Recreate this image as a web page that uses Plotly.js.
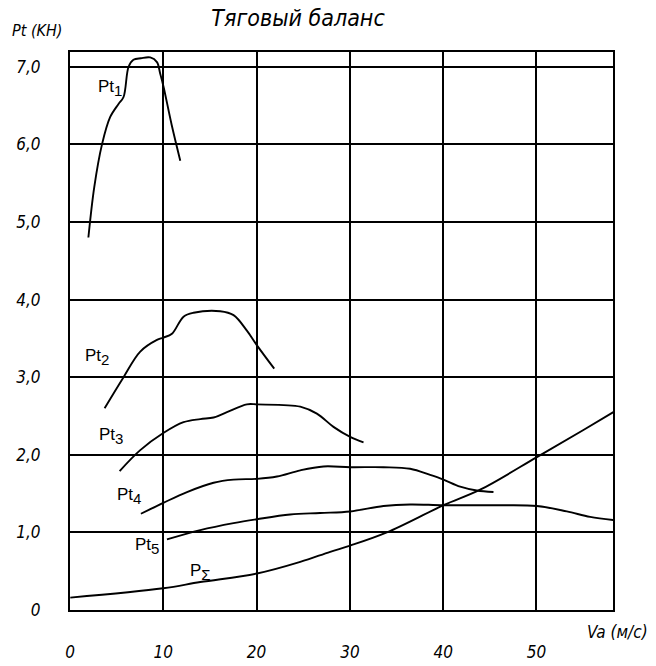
<!DOCTYPE html>
<html>
<head>
<meta charset="utf-8">
<script src="https://cdn.plot.ly/plotly-3.0.1.min.js"></script>
<style>html,body{margin:0;padding:0;background:#fff;}#chart{width:656px;height:666px;}</style>
</head>
<body>
<div id="chart"></div>
<script>
// ---- Data ----
const pt1X = [1.97, 2.6, 3.43, 4.3, 5.2, 5.74, 6.28, 6.8, 7.6, 8.6, 9.32, 9.67, 10.03, 10.9, 11.82];
const pt1Y = [4.80, 5.45, 6.00, 6.35, 6.52, 6.61, 7.00, 7.09, 7.11, 7.12, 7.06, 6.91, 6.74, 6.25, 5.79];

const pt2X = [3.71, 5.74, 7.53, 9.32, 10.0, 10.93, 12.17, 13.24, 16.1, 17.53, 18.96, 20.04, 21.89];
const pt2Y = [2.60, 3.00, 3.33, 3.48, 3.51, 3.56, 3.78, 3.83, 3.85, 3.80, 3.60, 3.41, 3.11];

const pt3X = [5.32, 7.53, 10.0, 12.17, 13.96, 15.39, 16.82, 18.96, 20.04, 22.9, 24.68, 26.46, 28.24, 30.03, 31.46];
const pt3Y = [1.79, 2.06, 2.28, 2.42, 2.46, 2.48, 2.55, 2.65, 2.65, 2.64, 2.62, 2.53, 2.36, 2.23, 2.16];

const pt4X = [7.6, 10.0, 12.54, 15.39, 17.53, 20.04, 22.18, 24.68, 27.17, 30.03, 33.6, 36.46, 38.6, 40.03, 41.82, 43.6, 45.39];
const pt4Y = [1.24, 1.38, 1.52, 1.64, 1.68, 1.69, 1.72, 1.80, 1.85, 1.84, 1.84, 1.82, 1.74, 1.68, 1.59, 1.54, 1.52];

const pt5X = [10.39, 13.96, 17.53, 20.04, 23.6, 26.8, 30.03, 33.6, 36.46, 40.03, 46.1, 50.04, 53.25, 55.75, 58.24];
const pt5Y = [0.91, 1.03, 1.12, 1.17, 1.23, 1.25, 1.27, 1.34, 1.36, 1.35, 1.35, 1.34, 1.27, 1.20, 1.16];

const psX = [0.03, 10.0, 13.96, 20.04, 24.68, 27.89, 30.03, 33.96, 40.03, 43.96, 50.04, 55.03, 58.24];
const psY = [0.16, 0.28, 0.36, 0.47, 0.62, 0.75, 0.83, 1.00, 1.35, 1.55, 1.97, 2.32, 2.55];

const xTickVals = [0, 10, 20, 30, 40, 50];
const xTickText = ["0", "10", "20", "30", "40", "50"];
const yTickVals = [0, 1, 2, 3, 4, 5, 6, 7];
const yTickText = ["0", "1,0", "2,0", "3,0", "4,0", "5,0", "6,0", "7,0"];

const seriesBase = ["Pt", "Pt", "Pt", "Pt", "Pt", "P"];
const seriesSub = ["1", "2", "3", "4", "5", "Σ"];
const labelX = [2.82, 1.43, 2.93, 4.85, 6.78, 12.68];
const labelY = [6.73, 3.26, 2.24, 1.47, 0.82, 0.49];

const titleText = "Тяговый баланс";
const xTitle = "Va (м/с)";
const yTitle = "Pt (KH)";

// ---- Styling ----
const fam = "'DejaVu Sans Condensed', 'DejaVu Sans', sans-serif";
const italicFont = {family: fam, style: "italic", color: "#000"};
const uprightFont = {family: "'Liberation Sans', Arial, sans-serif", color: "#000", size: 17};
const lineStyle = {color: "#000", width: 1.9, shape: "spline", smoothing: 1};

const series = [[pt1X, pt1Y], [pt2X, pt2Y], [pt3X, pt3Y], [pt4X, pt4Y], [pt5X, pt5Y], [psX, psY]];
const traces = series.map((s, i) => ({
  x: s[0], y: s[1], type: "scatter", mode: "lines",
  line: lineStyle, name: seriesBase[i] + seriesSub[i], hoverinfo: "skip"
}));

const annotations = seriesBase.map((t, i) => ({
  x: labelX[i], y: labelY[i], xref: "x", yref: "y",
  text: t + "<sub><span style='font-size:15px'>" + seriesSub[i] + "</span></sub>",
  showarrow: false, xanchor: "left", yanchor: "middle",
  font: uprightFont
}));
annotations.push({
  x: -0.061, y: 1.038, xref: "paper", yref: "paper", text: yTitle,
  showarrow: false, xanchor: "center", yanchor: "middle",
  font: Object.assign({}, italicFont, {size: 16})
});
annotations.push({
  x: 1.009, y: -0.040, xref: "paper", yref: "paper", text: xTitle,
  showarrow: false, xanchor: "center", yanchor: "middle",
  font: Object.assign({}, italicFont, {size: 17})
});

const layout = {
  width: 656, height: 666,
  margin: {l: 70, r: 43, t: 52, b: 56},
  paper_bgcolor: "#fff", plot_bgcolor: "#fff",
  showlegend: false,
  title: {
    text: titleText, x: 0.42, xanchor: "center", xref: "paper",
    y: 1 - 18 / 666, yanchor: "middle", yref: "container",
    font: Object.assign({}, italicFont, {size: 23})
  },
  xaxis: {
    range: [0, 58.2], tickvals: xTickVals, ticktext: xTickText,
    showgrid: true, gridcolor: "#000", gridwidth: 2,
    showline: true, linecolor: "#000", linewidth: 2, mirror: true,
    zeroline: false, ticks: "", ticklabelstandoff: 26,
    tickfont: Object.assign({}, italicFont, {size: 17}), fixedrange: true
  },
  yaxis: {
    range: [0, 7.19], tickvals: yTickVals, ticktext: yTickText,
    showgrid: true, gridcolor: "#000", gridwidth: 2,
    showline: true, linecolor: "#000", linewidth: 2, mirror: true,
    zeroline: false, ticks: "", ticklabelstandoff: 24,
    tickfont: Object.assign({}, italicFont, {size: 17}), fixedrange: true
  },
  annotations: annotations
};

Plotly.newPlot("chart", traces, layout, {displayModeBar: false, staticPlot: true});
</script>
</body>
</html>
